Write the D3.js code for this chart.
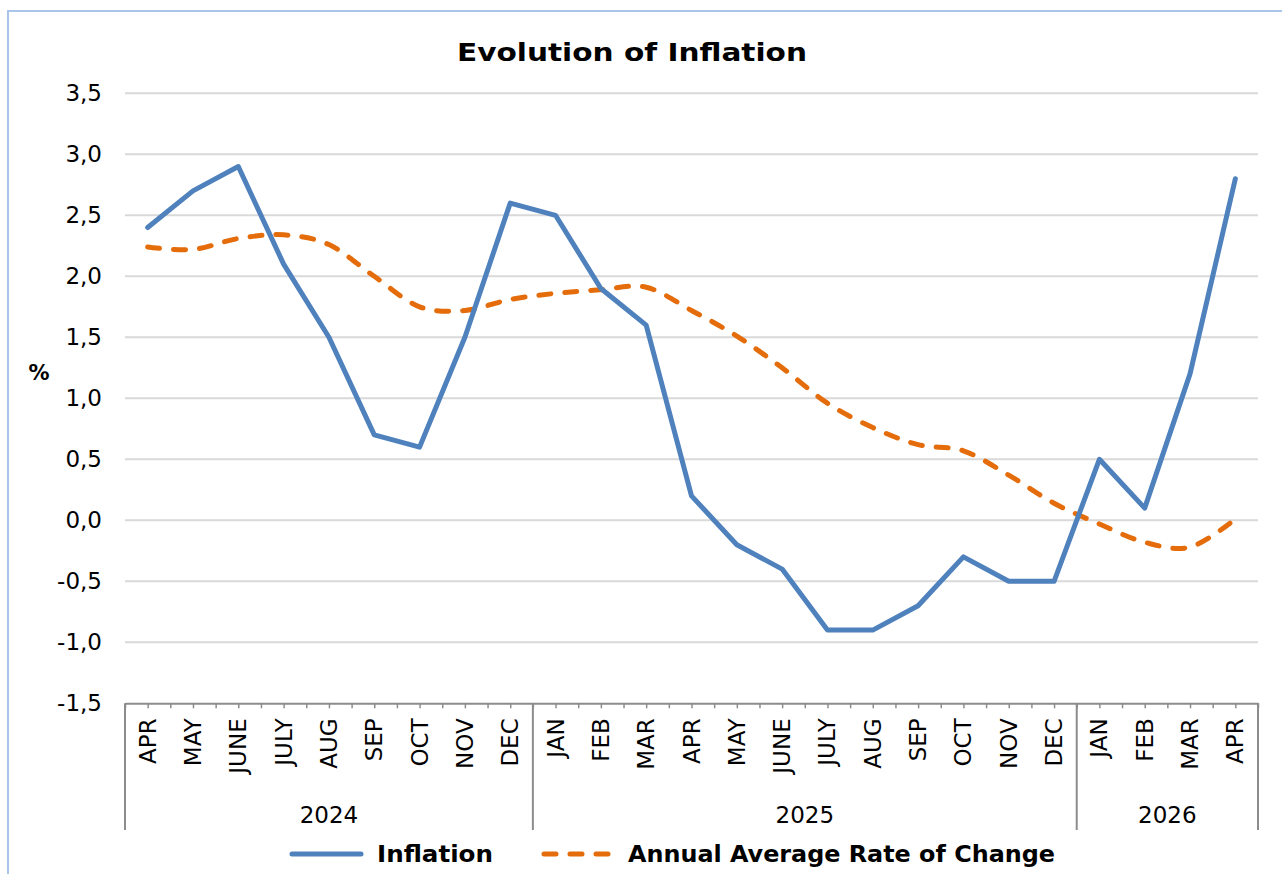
<!DOCTYPE html>
<html>
<head>
<meta charset="utf-8">
<script src="https://cdn.jsdelivr.net/npm/d3@7"></script>
<style>
  html, body { margin: 0; padding: 0; background: #fff; }
  svg { display: block; font-family: "DejaVu Sans", Verdana, sans-serif; }
</style>
</head>
<body>
<svg id="chart" width="1282" height="874"></svg>
<script>
// data
const months = ["APR", "MAY", "JUNE", "JULY", "AUG", "SEP", "OCT", "NOV", "DEC",
  "JAN", "FEB", "MAR", "APR", "MAY", "JUNE", "JULY", "AUG", "SEP", "OCT", "NOV", "DEC",
  "JAN", "FEB", "MAR", "APR"];
const years = ["2024", "2024", "2024", "2024", "2024", "2024", "2024", "2024", "2024",
  "2025", "2025", "2025", "2025", "2025", "2025", "2025", "2025", "2025", "2025", "2025", "2025",
  "2026", "2026", "2026", "2026"];
const inflation = [2.4, 2.7, 2.9, 2.1, 1.5, 0.7, 0.6, 1.5, 2.6,
  2.5, 1.9, 1.6, 0.2, -0.2, -0.4, -0.9, -0.9, -0.7, -0.3, -0.5, -0.5,
  0.5, 0.1, 1.2, 2.8];
const annualAverage = [2.24, 2.22, 2.31, 2.34, 2.26, 2.0, 1.75, 1.72, 1.81,
  1.86, 1.89, 1.91, 1.72, 1.51, 1.25, 0.96, 0.76, 0.62, 0.57, 0.37, 0.14,
  -0.03, -0.18, -0.22, 0.01];
const yTicks = [3.5, 3.0, 2.5, 2.0, 1.5, 1.0, 0.5, 0.0, -0.5, -1.0, -1.5];
const seriesNames = ["Inflation", "Annual Average Rate of Change"];

const blue = "#4f81bd";
const orange = "#e46c0a";
const axisGrey = "#8c8c8c";

const svg = d3.select("#chart");
const plot = { left: 125, right: 1258, top: 93.3, bottom: 703.3 };

// chart border
svg.append("rect")
  .attr("x", 8).attr("y", 11)
  .attr("width", 1290).attr("height", 900)
  .attr("fill", "none")
  .attr("stroke", "#a9c6ea")
  .attr("stroke-width", 2);

svg.append("text")
  .attr("x", 632).attr("y", 61)
  .attr("text-anchor", "middle")
  .attr("font-size", 25).attr("font-weight", "bold")
  .attr("textLength", 350).attr("lengthAdjust", "spacingAndGlyphs")
  .text("Evolution of Inflation");

const idx = d3.range(months.length);
const x = d3.scaleBand().domain(idx).range([plot.left, plot.right]).padding(0);
const xc = i => x(i) + x.bandwidth() / 2;
const y = d3.scaleLinear().domain([-1.5, 3.5]).range([plot.bottom, plot.top]);
const fmt = v => d3.format(".1f")(v).replace(".", ",").replace("−", "-");

// gridlines
svg.append("g")
  .selectAll("line")
  .data(yTicks.filter(v => v !== -1.5))
  .join("line")
  .attr("x1", plot.left).attr("x2", plot.right)
  .attr("y1", d => y(d)).attr("y2", d => y(d))
  .attr("stroke", "#d9d9d9")
  .attr("stroke-width", 2);

// y axis labels
const yAxis = svg.append("g")
  .attr("transform", `translate(${plot.left},0)`)
  .call(d3.axisLeft(y).tickValues(yTicks).tickFormat(fmt).tickSize(0).tickPadding(23));
yAxis.select(".domain").remove();
yAxis.selectAll("text")
  .attr("font-family", "DejaVu Sans, Verdana, sans-serif")
  .attr("font-size", 23)
  .attr("fill", "#000");

svg.append("text")
  .attr("x", 39).attr("y", 380)
  .attr("text-anchor", "middle")
  .attr("font-size", 21).attr("font-weight", "bold")
  .text("%");

// category axis with ticks at every half band
const xt = d3.scaleLinear().domain([0, months.length]).range([plot.left, plot.right]);
const xAxis = svg.append("g")
  .attr("transform", `translate(0,${plot.bottom})`)
  .call(d3.axisBottom(xt).tickValues(d3.range(0, months.length + 0.01, 0.5))
    .tickSize(5).tickSizeOuter(0).tickFormat(""));
xAxis.select(".domain").attr("stroke", axisGrey).attr("stroke-width", 2);
xAxis.selectAll(".tick line").attr("stroke", axisGrey).attr("stroke-width", 1.5);

svg.append("g")
  .selectAll("text")
  .data(idx)
  .join("text")
  .attr("transform", i => `translate(${xc(i) + 8},${plot.bottom + 15}) rotate(-90)`)
  .attr("text-anchor", "end")
  .attr("font-size", 23)
  .text(i => months[i]);

// year groups
const groups = d3.groups(idx, i => years[i]);
const edges = [plot.left].concat(groups.map(g => x(g[1][g[1].length - 1]) + x.bandwidth()));
svg.append("g")
  .selectAll("line")
  .data(edges)
  .join("line")
  .attr("x1", d => d).attr("x2", d => d)
  .attr("y1", plot.bottom).attr("y2", 830)
  .attr("stroke", axisGrey)
  .attr("stroke-width", 2);

svg.append("g")
  .selectAll("text")
  .data(groups)
  .join("text")
  .attr("x", g => (x(g[1][0]) + x(g[1][g[1].length - 1]) + x.bandwidth()) / 2)
  .attr("y", 823)
  .attr("text-anchor", "middle")
  .attr("font-size", 23)
  .text(g => g[0]);

// series
const line = d3.line().x((d, i) => xc(i)).y(d => y(d));
svg.append("path")
  .datum(annualAverage)
  .attr("d", line.curve(d3.curveCardinal.tension(0)))
  .attr("fill", "none")
  .attr("stroke", orange)
  .attr("stroke-width", 5)
  .attr("stroke-linecap", "round")
  .attr("stroke-dasharray", "12 14");

svg.append("path")
  .datum(inflation)
  .attr("d", line.curve(d3.curveLinear))
  .attr("fill", "none")
  .attr("stroke", blue)
  .attr("stroke-width", 5)
  .attr("stroke-linejoin", "round")
  .attr("stroke-linecap", "round");

// legend
const legend = svg.append("g");
legend.append("line")
  .attr("x1", 292).attr("x2", 361).attr("y1", 854).attr("y2", 854)
  .attr("stroke", blue).attr("stroke-width", 5).attr("stroke-linecap", "round");
legend.append("text")
  .attr("x", 377).attr("y", 862)
  .attr("font-size", 23).attr("font-weight", "bold")
  .attr("textLength", 116).attr("lengthAdjust", "spacingAndGlyphs")
  .text(seriesNames[0]);
legend.append("line")
  .attr("x1", 544).attr("x2", 612).attr("y1", 854).attr("y2", 854)
  .attr("stroke", orange).attr("stroke-width", 5).attr("stroke-linecap", "round")
  .attr("stroke-dasharray", "12 14");
legend.append("text")
  .attr("x", 628).attr("y", 862)
  .attr("font-size", 23).attr("font-weight", "bold")
  .attr("textLength", 427).attr("lengthAdjust", "spacingAndGlyphs")
  .text(seriesNames[1]);
</script>
</body>
</html>
